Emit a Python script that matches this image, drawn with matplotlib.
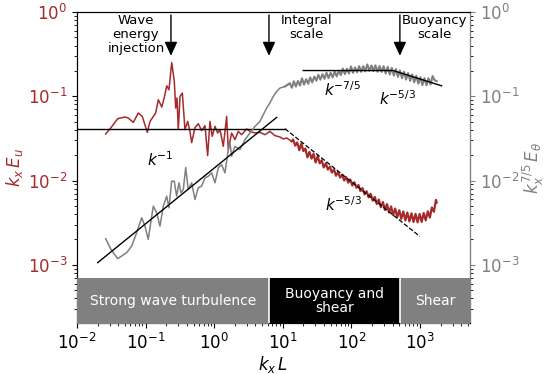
import numpy as np
import matplotlib.pyplot as plt

red = '#a52a2a'
grey = 'grey'

# log10(k_x L) and log10(k_x E_u)
log_k_u = [-1.582, -1.519, -1.406, -1.300, -1.253, -1.179, -1.107, -1.048, -0.975, -0.935,
           -0.853, -0.814, -0.764, -0.727, -0.692, -0.659, -0.619, -0.581, -0.561, -0.542,
           -0.523, -0.498, -0.464, -0.426, -0.386, -0.353, -0.328, -0.280, -0.232, -0.182,
           -0.134, -0.095, -0.061, -0.028, 0.012, 0.051, 0.085, 0.133, 0.182, 0.206,
           0.255, 0.303, 0.351, 0.401, 0.474, 0.522, 0.595, 0.668, 0.741, 0.813,
           0.886, 0.959, 1.007, 1.057, 1.130,
           1.152, 1.182, 1.211, 1.241, 1.271, 1.301, 1.330, 1.360, 1.390, 1.420,
           1.449, 1.479, 1.509, 1.539, 1.568, 1.598, 1.628, 1.658, 1.687, 1.717,
           1.747, 1.777, 1.806, 1.836, 1.866, 1.896, 1.925, 1.955, 1.985, 2.014,
           2.044, 2.074, 2.104, 2.133, 2.163, 2.193, 2.223, 2.252, 2.282, 2.312,
           2.342, 2.371, 2.401, 2.431, 2.461, 2.490, 2.520, 2.550, 2.580, 2.609,
           2.639, 2.669, 2.699, 2.728, 2.758, 2.788, 2.817, 2.847, 2.877, 2.907,
           2.936, 2.966, 2.996, 3.026, 3.055, 3.085, 3.115, 3.145, 3.174, 3.204,
           3.234, 3.244]
log_Eu = [-1.447, -1.388, -1.266, -1.246, -1.258, -1.310, -1.199, -1.239, -1.428, -1.298,
          -1.199, -1.041, -1.128, -1.014, -0.876, -0.923, -0.600, -0.825, -1.140, -1.021,
          -1.396, -1.002, -0.962, -1.396, -1.298, -1.417, -1.550, -1.373, -1.325, -1.408,
          -1.349, -1.704, -1.298, -1.476, -1.357, -1.436, -1.396, -1.594, -1.239, -1.633,
          -1.436, -1.515, -1.417, -1.456, -1.388, -1.417, -1.436, -1.428, -1.456, -1.417,
          -1.467, -1.483, -1.507, -1.495, -1.535,
          -1.515, -1.586, -1.548, -1.640, -1.562, -1.650, -1.620, -1.725, -1.660, -1.740,
          -1.683, -1.785, -1.710, -1.795, -1.760, -1.845, -1.795, -1.870, -1.835, -1.906,
          -1.867, -1.943, -1.900, -1.965, -1.930, -2.000, -1.960, -2.025, -1.988, -2.060,
          -2.020, -2.085, -2.053, -2.125, -2.090, -2.164, -2.127, -2.200, -2.157, -2.240,
          -2.194, -2.278, -2.225, -2.317, -2.255, -2.350, -2.280, -2.380, -2.307, -2.410,
          -2.332, -2.435, -2.352, -2.455, -2.367, -2.473, -2.379, -2.485, -2.389, -2.492,
          -2.395, -2.496, -2.396, -2.492, -2.385, -2.473, -2.365, -2.440, -2.320, -2.370,
          -2.230, -2.260]

# log10(k_x L) and log10(k_x^{7/5} E_theta)
log_k_t = [-1.582, -1.504, -1.407, -1.276, -1.203, -1.130, -1.057, -1.009, -0.961, -0.888,
           -0.838, -0.790, -0.742, -0.692, -0.659, -0.620, -0.582, -0.547, -0.513, -0.484,
           -0.450, -0.415, -0.378, -0.328, -0.280, -0.232, -0.182, -0.134, -0.086, -0.036,
           0.012, 0.060, 0.109, 0.157, 0.206, 0.230, 0.255, 0.303, 0.376, 0.449,
           0.522, 0.595, 0.668, 0.716, 0.765, 0.813, 0.862, 0.911, 0.959, 1.032,
           1.103, 1.133, 1.162, 1.192, 1.222, 1.252, 1.281, 1.311, 1.341, 1.371,
           1.400, 1.430, 1.460, 1.490, 1.519, 1.549, 1.579, 1.609, 1.638, 1.668,
           1.698, 1.728, 1.757, 1.787, 1.817, 1.847, 1.876, 1.906, 1.936, 1.965,
           1.995, 2.025, 2.055, 2.084, 2.114, 2.144, 2.174, 2.203, 2.233, 2.263,
           2.293, 2.322, 2.352, 2.382, 2.412, 2.441, 2.471, 2.501, 2.531, 2.560,
           2.590, 2.620, 2.650, 2.679, 2.709, 2.739, 2.768, 2.798, 2.828, 2.858,
           2.887, 2.917, 2.947, 2.977, 3.006, 3.036, 3.066, 3.096, 3.125, 3.155,
           3.185, 3.215, 3.244]
log_Et = [-2.690, -2.817, -2.927, -2.856, -2.778, -2.619, -2.441, -2.541, -2.698, -2.304,
          -2.382, -2.541, -2.304, -2.186, -2.323, -2.008, -2.008, -2.186, -2.027, -2.146,
          -2.107, -1.846, -2.107, -2.027, -2.225, -2.086, -2.067, -1.968, -1.949, -1.909,
          -2.027, -1.850, -1.811, -1.909, -1.633, -1.550, -1.712, -1.594, -1.633, -1.515,
          -1.436, -1.357, -1.298, -1.219, -1.140, -1.080, -1.002, -0.943, -0.903, -0.884,
          -0.846, -0.899, -0.822, -0.885, -0.818, -0.873, -0.787, -0.862, -0.797, -0.852,
          -0.776, -0.836, -0.766, -0.816, -0.745, -0.804, -0.738, -0.794, -0.720, -0.785,
          -0.721, -0.777, -0.706, -0.764, -0.696, -0.748, -0.671, -0.737, -0.673, -0.730,
          -0.646, -0.722, -0.658, -0.716, -0.643, -0.710, -0.643, -0.705, -0.622, -0.699,
          -0.635, -0.701, -0.633, -0.709, -0.641, -0.712, -0.644, -0.730, -0.651, -0.742,
          -0.663, -0.754, -0.677, -0.770, -0.693, -0.786, -0.709, -0.802, -0.725, -0.818,
          -0.741, -0.834, -0.757, -0.851, -0.774, -0.867, -0.785, -0.870, -0.785, -0.860,
          -0.760, -0.810, -0.820]

# power-law guide lines, log10 end points
flat_u_k, flat_u_E = [-2.0, 1.032], [-1.385, -1.385]
slope_u_k, slope_u_E = [1.032, 3.0], [-1.385, -2.663]
rise_t_k, rise_t_E = [-1.698, 0.911], [-2.974, -1.251]
plat_t_k, plat_t_E = [1.299, 2.611, 3.316], [-0.695, -0.695, -0.876]

# scale markers and regimes (log10 k_x L)
arrow_k = [-0.630, 0.799, 2.708]
band_edges = [-2.0, 0.799, 2.708, 3.73]
band_names = ['Strong wave turbulence', 'Buoyancy and\nshear', 'Shear']
band_colors = ['#808080', 'black', '#808080']

ku, eu = 10 ** np.array(log_k_u), 10 ** np.array(log_Eu)
kt, et = 10 ** np.array(log_k_t), 10 ** np.array(log_Et)

fig = plt.figure(figsize=(5.5, 3.74), dpi=100)
ax = fig.add_axes([0.14, 0.1364, 0.7145, 0.8316])
ax.set_xscale('log')
ax.set_yscale('log')
xlim = (10 ** band_edges[0], 10 ** band_edges[-1])
ylim = (10 ** -3.69, 1.0)
ax.set_xlim(xlim)
ax.set_ylim(ylim)

# thin line where the spectrum is sparse, thicker where it is a noisy band
ax.plot(ku[:56], eu[:56], color=red, lw=1.1)
ax.plot(ku[54:], eu[54:], color=red, lw=1.6)
ax.plot(10 ** np.array(flat_u_k), 10 ** np.array(flat_u_E), color='k', lw=1)
ax.plot(10 ** np.array(slope_u_k), 10 ** np.array(slope_u_E), color='k', lw=0.9, ls='--')

ax2 = ax.twinx()
ax2.set_yscale('log')
ax2.set_ylim(ylim)
ax2.set_xlim(xlim)
ax2.plot(kt[:51], et[:51], color=grey, lw=1.1)
ax2.plot(kt[49:], et[49:], color=grey, lw=1.5)
ax2.plot(10 ** np.array(rise_t_k), 10 ** np.array(rise_t_E), color='k', lw=1)
ax2.plot(10 ** np.array(plat_t_k), 10 ** np.array(plat_t_E), color='k', lw=1)

# regime bands along the bottom
for i in range(3):
    x0, x1 = 10 ** band_edges[i], 10 ** band_edges[i + 1]
    ax2.fill_between([x0, x1], 10 ** -3.8, 10 ** -3.16, color=band_colors[i], lw=0, zorder=3)
    xm = 10 ** ((band_edges[i] + band_edges[i + 1]) / 2)
    ax2.text(xm, 10 ** -3.43, band_names[i], color='white', fontsize=10,
             ha='center', va='center', linespacing=1.05, zorder=4)
for e in band_edges[1:3]:
    ax2.plot([10 ** e, 10 ** e], [10 ** -3.8, 10 ** -3.16], color='white', lw=1.2, zorder=4)

for xk in arrow_k:
    ax2.annotate('', xy=(10 ** xk, 10 ** -0.52), xytext=(10 ** xk, 10 ** -0.036),
                 arrowprops=dict(arrowstyle='-|>,head_width=0.32,head_length=0.7',
                                 color='k', lw=1, mutation_scale=12,
                                 shrinkA=0, shrinkB=0))
ax2.text(10 ** -1.14, 10 ** -0.02, 'Wave\nenergy\ninjection', fontsize=9.5,
         ha='center', va='top', linespacing=1.1)
ax2.text(10 ** 1.353, 10 ** -0.03, 'Integral\nscale', fontsize=9.5,
         ha='center', va='top', linespacing=1.1)
ax2.text(10 ** 3.219, 10 ** -0.03, 'Buoyancy\nscale', fontsize=9.5,
         ha='center', va='top', linespacing=1.1)

ax2.text(10 ** -0.79, 10 ** -1.75, r'$k^{-1}$', fontsize=11, ha='center', va='center')
ax2.text(10 ** 1.878, 10 ** -0.923, r'$k^{-7/5}$', fontsize=11, ha='center', va='center')
ax2.text(10 ** 2.679, 10 ** -1.03, r'$k^{-5/3}$', fontsize=11, ha='center', va='center')
ax2.text(10 ** 1.892, 10 ** -2.284, r'$k^{-5/3}$', fontsize=11, ha='center', va='center')

ax.set_xlabel(r'$k_x\,L$', fontsize=12, labelpad=1)
ax.set_ylabel(r'$k_x\,E_u$', fontsize=12, color=red, labelpad=2)
ax2.set_ylabel(r'$k_x^{7/5}\,E_\theta$', fontsize=12, color=grey, labelpad=1)
ax.tick_params(axis='x', labelsize=12)
ax.tick_params(axis='y', labelsize=12, labelcolor=red)
ax2.tick_params(axis='y', labelsize=12, labelcolor=grey, colors=grey)
ax2.spines['right'].set_color(grey)

fig.savefig('out.png', dpi=100)
